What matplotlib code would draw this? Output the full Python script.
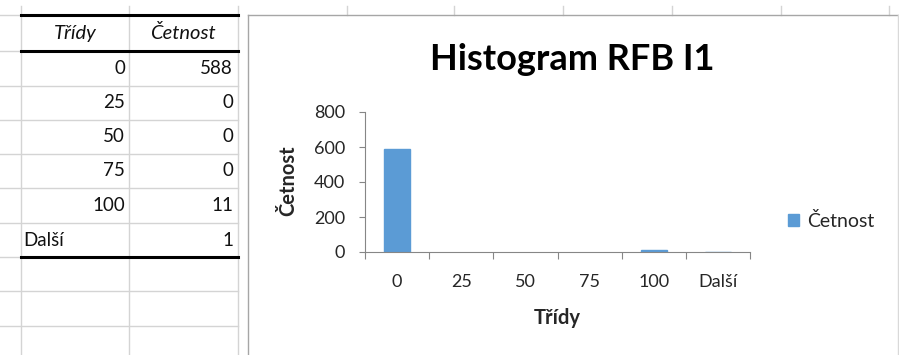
import matplotlib.pyplot as plt

# data from the Excel histogram output
classes = ['0', '25', '50', '75', '100', 'Další']
counts = [588, 0, 0, 0, 11, 1]
col_header = ['Třídy', 'Četnost']
title = 'Histogram RFB I1'

plt.rcParams['font.family'] = ['Lato', 'DejaVu Sans']

W, H = 899, 355
fig = plt.figure(figsize=(W / 100, H / 100), dpi=100)

# background "sheet" drawn in pixel coordinates
bg = fig.add_axes([0, 0, 1, 1])
bg.set_xlim(0, W)
bg.set_ylim(H, 0)
bg.axis('off')

grid_c = '#d4d4d4'
row_y = [15, 51, 86, 120, 154, 188, 223, 257, 291, 326]
for y in row_y:
    bg.plot([0, 238], [y, y], color=grid_c, lw=1)
for x in [21, 129, 238]:
    bg.plot([x, x], [6, H], color=grid_c, lw=1)
for y in [15, 51, 257]:
    bg.plot([21, 238], [y, y], color='black', lw=2.2)

# table text
txt = '#111111'
bg.text(75, 33, col_header[0], ha='center', va='center', fontsize=14.5, style='italic', color=txt)
bg.text(183, 33, col_header[1], ha='center', va='center', fontsize=14.5, style='italic', color=txt)
for i, (c, n) in enumerate(zip(classes, counts)):
    yc = (row_y[i + 1] + row_y[i + 2]) / 2
    if c.isdigit():
        bg.text(125, yc, c, ha='right', va='center', fontsize=13.5, color=txt)
    else:
        bg.text(23, yc, c, ha='left', va='center', fontsize=13.5, color=txt)
    bg.text(233, yc, str(n), ha='right', va='center', fontsize=13.5, color=txt)

# chart area frame
for x in [347, 454, 563, 672, 781, 889]:
    bg.plot([x, x], [6, 15], color=grid_c, lw=1)
bg.plot([248, 899], [15, 15], color='#a6a6a6', lw=1)
bg.plot([248, 248], [15, H], color='#a6a6a6', lw=1)
bg.plot([898, 898], [15, H], color='#d9d9d9', lw=1)

# chart
ax = fig.add_axes([365 / W, 1 - 252 / H, (750 - 365) / W, (252 - 112) / H])
bars = ax.bar(range(len(classes)), counts, width=0.4, color='#5b9bd5',
              edgecolor='#5b9bd5', lw=1, label='Četnost')
# tiny counts still get a visible sliver, empty classes nothing
for b, n in zip(bars, counts):
    if n == 0:
        b.set_linewidth(0)
ax.set_xlim(-0.5, len(classes) - 0.5)
ax.set_ylim(0, 800)
ax.set_yticks([0, 200, 400, 600, 800])
ax.set_xticks([i + 0.5 for i in range(-1, len(classes))])
ax.set_xticklabels([])
ax.set_xticks(range(len(classes)), minor=True)
ax.set_xticklabels(classes, minor=True)
ax.tick_params(axis='x', which='major', length=5, color='#868686')
ax.tick_params(axis='x', which='minor', length=0, pad=16, labelsize=13, labelcolor='#262626')
ax.tick_params(axis='y', length=4.3, color='#868686', pad=10, labelsize=13, labelcolor='#262626')
for s in ['top', 'right']:
    ax.spines[s].set_visible(False)
for s in ['left', 'bottom']:
    ax.spines[s].set_color('#868686')
ax.patch.set_alpha(0)

ax.set_xlabel('Třídy', fontsize=14.5, fontweight='bold', color='#262626', va='center')
ax.xaxis.set_label_coords(0.5, (252 - 318) / 140)
ax.set_ylabel('Četnost', fontsize=14.5, fontweight='bold', color='#262626', va='center')
ax.yaxis.set_label_coords((288 - 365) / 385, (252 - 181) / 140)
fig.text(572 / W, 1 - 59 / H, title, ha='center', va='center', fontsize=26, fontweight='bold')

fig.legend(handles=[bars], loc='center left', bbox_to_anchor=(770 / W, 1 - 221 / H),
           frameon=False, fontsize=14, handlelength=0.6, handleheight=0.6,
           handletextpad=0.4, labelcolor='#262626')

fig.savefig('out.png', dpi=100)
